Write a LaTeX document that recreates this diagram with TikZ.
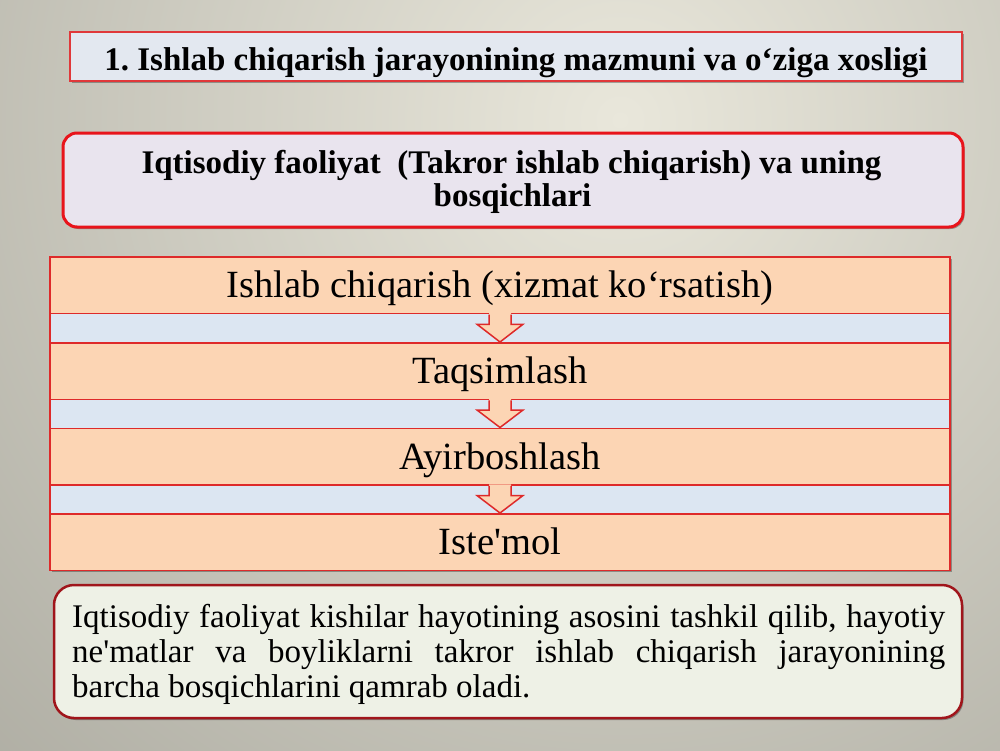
\documentclass[tikz,border=0pt]{standalone}
\usepackage{fontspec}
\setmainfont{Liberation Serif}[Ligatures=TeXOff]
\usetikzlibrary{calc,shadows}
\definecolor{bgIn}{HTML}{E9E7DB}
\definecolor{bgOut}{HTML}{8A8980}
\definecolor{titleFill}{HTML}{E3E8F0}
\definecolor{titleDraw}{HTML}{E0383A}
\definecolor{boxFill}{HTML}{E9E4EE}
\definecolor{boxDraw}{HTML}{E8141B}
\definecolor{barFill}{HTML}{FCD5B4}
\definecolor{barDraw}{HTML}{DE2A2A}
\definecolor{bandFill}{HTML}{DCE6F2}
\definecolor{noteFill}{HTML}{EEF1E6}
\definecolor{noteDraw}{HTML}{A0151B}
\AtBeginDocument{\frenchspacing}
\begin{document}
\begin{tikzpicture}[x=1pt,y=-1pt,
  softshadow/.style={drop shadow={shadow xshift=1.5pt,shadow yshift=-2pt,opacity=0.3,fill=black}},
  titlebox/.style={draw=titleDraw,line width=1.5pt,fill=titleFill,softshadow,inner sep=0pt,
    text height=27pt,text depth=0pt,font=\fontsize{33}{33}\selectfont\bfseries\frenchspacing},
  stagebox/.style={draw=boxDraw,line width=3pt,fill=boxFill,rounded corners=14pt,softshadow,inner sep=0pt},
  boldline/.style={inner sep=0pt,font=\fontsize{33}{33}\selectfont\bfseries},
  stackbox/.style={draw=barDraw,line width=1.5pt,fill=bandFill,softshadow,inner sep=0pt},
  barbox/.style={draw=barDraw,line width=1.5pt,fill=barFill,inner sep=0pt,minimum width=900pt,
    minimum height=56.5pt,text height=25pt,text depth=0pt,font=\fontsize{38.5}{38.5}\selectfont},
  arrowfill/.style={fill=barFill},
  arrowline/.style={draw=barDraw,line width=1.5pt,line join=miter},
  notebox/.style={draw=noteDraw,line width=2.5pt,fill=noteFill,rounded corners=20pt,softshadow,inner sep=0pt},
  noteline/.style={inner sep=0pt,anchor=base west,font=\fontsize{33}{35}\selectfont\frenchspacing},
]
% background
\begin{scope}
\clip (0,0) rectangle (1000,750);
\shade[inner color=bgIn,outer color=bgOut] (620,120) circle [radius=1500pt];
\end{scope}
\useasboundingbox (0,0) rectangle (1000,750);

% title
\node[titlebox,minimum width=892pt,minimum height=49pt] (title) at (516,56.5)
  {1. Ishlab chiqarish jarayonining mazmuni va o‘ziga xosligi};

% stages heading
\node[stagebox,minimum width=900pt,minimum height=94pt] (stages) at (513,180) {};
\node[boldline,anchor=base] (stagesA) at (511.5,173) {Iqtisodiy faoliyat\ \ (Takror ishlab chiqarish) va uning};
\node[boldline,anchor=base] (stagesB) at (512.5,206) {bosqichlari};

% stack of stages
\node[stackbox,minimum width=900pt,minimum height=313pt] (stack) at (500,413.5) {};
\node[barbox] (bar1) at (500,285.25) {Ishlab chiqarish (xizmat ko‘rsatish)};
\node[barbox] (bar2) at (500,371) {Taqsimlash};
\node[barbox] (bar3) at (500,456.5) {Ayirboshlash};
\node[barbox] (bar4) at (500,542) {Iste'mol};

\foreach \a/\b in {bar1/bar2,bar2/bar3,bar3/bar4}{
  \fill[arrowfill] ($(\a.south)+(-11,-1.2)$) -- ($(\a.south)+(-11,10)$) -- ($(\a.south)+(-23,10)$)
    -- (\b.north) -- ($(\a.south)+(23,10)$) -- ($(\a.south)+(11,10)$) -- ($(\a.south)+(11,-1.2)$) -- cycle;
  \draw[arrowline] ($(\a.south)+(-11,0.3)$) -- ($(\a.south)+(-11,10)$) -- ($(\a.south)+(-23,10)$)
    -- (\b.north) -- ($(\a.south)+(23,10)$) -- ($(\a.south)+(11,10)$) -- ($(\a.south)+(11,0.3)$);
}

% note
\node[notebox,minimum width=908pt,minimum height=133pt] (note) at (508,651.5) {};
\node[noteline] (noteA) at (72,627) {\makebox[873pt][s]{Iqtisodiy faoliyat kishilar hayotining asosini tashkil qilib, hayotiy}};
\node[noteline] (noteB) at (72,662) {\makebox[873pt][s]{ne'matlar va boyliklarni takror ishlab chiqarish jarayonining}};
\node[noteline] (noteC) at (72,697) {barcha bosqichlarini qamrab oladi.};
\end{tikzpicture}
\end{document}
